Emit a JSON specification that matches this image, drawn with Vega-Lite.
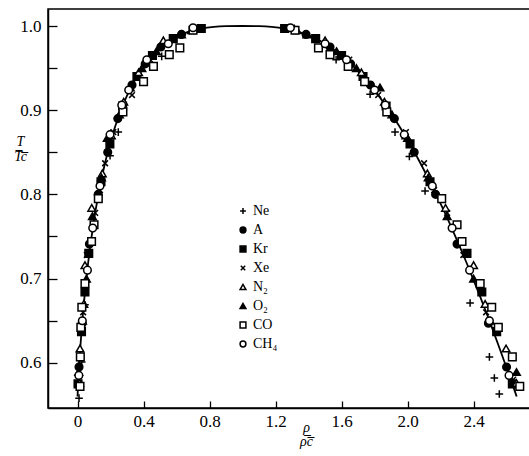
{
  "$schema": "https://vega.github.io/schema/vega-lite/v6.json",
  "autosize": "none",
  "width": 482,
  "height": 399,
  "padding": {"left": 48, "top": 9, "right": 0, "bottom": 48},
  "background": "white",
  "config": {
    "view": {"stroke": "black", "strokeWidth": 1.5},
    "axis": {
      "grid": false,
      "domainColor": "black",
      "domainWidth": 1.5,
      "tickColor": "black",
      "tickWidth": 1.3,
      "labelFont": "Liberation Serif",
      "labelFontSize": 17,
      "labelColor": "black",
      "titleFont": "Liberation Serif",
      "titleFontStyle": "italic",
      "titleFontWeight": "normal",
      "titleColor": "black",
      "titleFontSize": 14
    },
    "legend": {
      "orient": "none", "legendX": 188, "legendY": 195, "title": null,
      "labelFont": "Liberation Serif", "labelFontSize": 14, "labelColor": "black",
      "symbolSize": 34, "symbolStrokeWidth": 1.5,
      "rowPadding": 5, "labelOffset": 3
    }
  },
  "datasets": {
    "curve": [
      {"rho": 0.0, "T": 0.56}, {"rho": 0.0044, "T": 0.58}, {"rho": 0.0106, "T": 0.60}, {"rho": 0.0175, "T": 0.62},
      {"rho": 0.025, "T": 0.64}, {"rho": 0.0335, "T": 0.66}, {"rho": 0.043, "T": 0.68}, {"rho": 0.0535, "T": 0.70},
      {"rho": 0.065, "T": 0.72}, {"rho": 0.078, "T": 0.74}, {"rho": 0.0925, "T": 0.76}, {"rho": 0.1085, "T": 0.78},
      {"rho": 0.127, "T": 0.80}, {"rho": 0.147, "T": 0.82}, {"rho": 0.170, "T": 0.84}, {"rho": 0.196, "T": 0.86},
      {"rho": 0.227, "T": 0.88}, {"rho": 0.263, "T": 0.90}, {"rho": 0.306, "T": 0.92}, {"rho": 0.360, "T": 0.94},
      {"rho": 0.393, "T": 0.95}, {"rho": 0.4315, "T": 0.96}, {"rho": 0.479, "T": 0.97}, {"rho": 0.540, "T": 0.98},
      {"rho": 0.580, "T": 0.985}, {"rho": 0.630, "T": 0.99}, {"rho": 0.670, "T": 0.993}, {"rho": 0.704, "T": 0.995},
      {"rho": 0.750, "T": 0.997}, {"rho": 0.826, "T": 0.999}, {"rho": 0.90, "T": 0.9998}, {"rho": 1.0, "T": 1.0},
      {"rho": 1.10, "T": 0.9998}, {"rho": 1.176, "T": 0.999}, {"rho": 1.255, "T": 0.997}, {"rho": 1.303, "T": 0.995},
      {"rho": 1.340, "T": 0.993}, {"rho": 1.384, "T": 0.99}, {"rho": 1.443, "T": 0.985}, {"rho": 1.490, "T": 0.98},
      {"rho": 1.566, "T": 0.97}, {"rho": 1.629, "T": 0.96}, {"rho": 1.682, "T": 0.95}, {"rho": 1.730, "T": 0.94},
      {"rho": 1.814, "T": 0.92}, {"rho": 1.887, "T": 0.90}, {"rho": 1.953, "T": 0.88}, {"rho": 2.014, "T": 0.86},
      {"rho": 2.070, "T": 0.84}, {"rho": 2.123, "T": 0.82}, {"rho": 2.173, "T": 0.80}, {"rho": 2.2215, "T": 0.78},
      {"rho": 2.2675, "T": 0.76}, {"rho": 2.312, "T": 0.74}, {"rho": 2.355, "T": 0.72}, {"rho": 2.3965, "T": 0.70},
      {"rho": 2.437, "T": 0.68}, {"rho": 2.4765, "T": 0.66}, {"rho": 2.515, "T": 0.64}, {"rho": 2.5525, "T": 0.62},
      {"rho": 2.589, "T": 0.60}, {"rho": 2.626, "T": 0.58}, {"rho": 2.661, "T": 0.56}
    ],
    "pts": [
      {"s": "Ne", "rho": 0.009, "T": 0.558}, {"s": "Ne", "rho": 0.015, "T": 0.575}, {"s": "Ne", "rho": 0.025, "T": 0.601},
      {"s": "Ne", "rho": 0.045, "T": 0.669}, {"s": "Ne", "rho": 0.197, "T": 0.846}, {"s": "Ne", "rho": 0.247, "T": 0.874},
      {"s": "Ne", "rho": 0.51, "T": 0.964},
      {"s": "Ne", "rho": 2.556, "T": 0.563}, {"s": "Ne", "rho": 2.526, "T": 0.582}, {"s": "Ne", "rho": 2.496, "T": 0.607},
      {"s": "Ne", "rho": 2.379, "T": 0.671}, {"s": "Ne", "rho": 2.106, "T": 0.804}, {"s": "Ne", "rho": 2.011, "T": 0.845},
      {"s": "Ne", "rho": 1.924, "T": 0.874}, {"s": "Ne", "rho": 1.773, "T": 0.919}, {"s": "Ne", "rho": 1.567, "T": 0.96},

      {"s": "A", "rho": 0.009, "T": 0.595}, {"s": "A", "rho": 2.60, "T": 0.595},
      {"s": "A", "rho": 0.028, "T": 0.647}, {"s": "A", "rho": 2.49, "T": 0.647},
      {"s": "A", "rho": 0.072, "T": 0.741}, {"s": "A", "rho": 2.30, "T": 0.741},
      {"s": "A", "rho": 0.125, "T": 0.80}, {"s": "A", "rho": 2.17, "T": 0.80},
      {"s": "A", "rho": 0.183, "T": 0.85}, {"s": "A", "rho": 2.04, "T": 0.85},
      {"s": "A", "rho": 0.244, "T": 0.89}, {"s": "A", "rho": 1.92, "T": 0.89},
      {"s": "A", "rho": 0.33, "T": 0.93}, {"s": "A", "rho": 1.775, "T": 0.93},
      {"s": "A", "rho": 0.41, "T": 0.955}, {"s": "A", "rho": 1.655, "T": 0.955},
      {"s": "A", "rho": 0.505, "T": 0.975}, {"s": "A", "rho": 1.53, "T": 0.975},
      {"s": "A", "rho": 0.63, "T": 0.99}, {"s": "A", "rho": 1.385, "T": 0.99},

      {"s": "Kr", "rho": 0.003, "T": 0.575}, {"s": "Kr", "rho": 2.635, "T": 0.575},
      {"s": "Kr", "rho": 0.024, "T": 0.637}, {"s": "Kr", "rho": 2.54, "T": 0.637},
      {"s": "Kr", "rho": 0.045, "T": 0.684}, {"s": "Kr", "rho": 2.45, "T": 0.684},
      {"s": "Kr", "rho": 0.068, "T": 0.73}, {"s": "Kr", "rho": 2.36, "T": 0.73},
      {"s": "Kr", "rho": 0.142, "T": 0.815}, {"s": "Kr", "rho": 2.136, "T": 0.815},
      {"s": "Kr", "rho": 0.196, "T": 0.86}, {"s": "Kr", "rho": 2.015, "T": 0.86},
      {"s": "Kr", "rho": 0.273, "T": 0.905}, {"s": "Kr", "rho": 1.87, "T": 0.905},
      {"s": "Kr", "rho": 0.36, "T": 0.94}, {"s": "Kr", "rho": 1.73, "T": 0.94},
      {"s": "Kr", "rho": 0.454, "T": 0.965}, {"s": "Kr", "rho": 1.60, "T": 0.965},
      {"s": "Kr", "rho": 0.58, "T": 0.985}, {"s": "Kr", "rho": 1.443, "T": 0.985},
      {"s": "Kr", "rho": 0.75, "T": 0.997}, {"s": "Kr", "rho": 1.255, "T": 0.997},

      {"s": "Xe", "rho": 0.005, "T": 0.58}, {"s": "Xe", "rho": 2.64, "T": 0.58},
      {"s": "Xe", "rho": 0.034, "T": 0.66}, {"s": "Xe", "rho": 2.476, "T": 0.66},
      {"s": "Xe", "rho": 0.056, "T": 0.728}, {"s": "Xe", "rho": 2.338, "T": 0.728},
      {"s": "Xe", "rho": 0.107, "T": 0.778}, {"s": "Xe", "rho": 2.24, "T": 0.778},
      {"s": "Xe", "rho": 0.136, "T": 0.805}, {"s": "Xe", "rho": 2.161, "T": 0.805},
      {"s": "Xe", "rho": 0.167, "T": 0.837}, {"s": "Xe", "rho": 2.10, "T": 0.837},
      {"s": "Xe", "rho": 0.217, "T": 0.874}, {"s": "Xe", "rho": 1.99, "T": 0.874},
      {"s": "Xe", "rho": 0.33, "T": 0.918}, {"s": "Xe", "rho": 1.822, "T": 0.918},
      {"s": "Xe", "rho": 0.44, "T": 0.96}, {"s": "Xe", "rho": 1.647, "T": 0.96},
      {"s": "Xe", "rho": 0.58, "T": 0.985}, {"s": "Xe", "rho": 1.45, "T": 0.985},
      {"s": "Xe", "rho": 0.74, "T": 0.998}, {"s": "Xe", "rho": 1.30, "T": 0.998},

      {"s": "N₂", "rho": 0.012, "T": 0.576}, {"s": "N₂", "rho": 2.66, "T": 0.576},
      {"s": "N₂", "rho": 0.015, "T": 0.617}, {"s": "N₂", "rho": 2.597, "T": 0.617},
      {"s": "N₂", "rho": 0.038, "T": 0.67}, {"s": "N₂", "rho": 2.47, "T": 0.67},
      {"s": "N₂", "rho": 0.045, "T": 0.716}, {"s": "N₂", "rho": 2.40, "T": 0.716},
      {"s": "N₂", "rho": 0.086, "T": 0.784}, {"s": "N₂", "rho": 2.23, "T": 0.784},
      {"s": "N₂", "rho": 0.15, "T": 0.825}, {"s": "N₂", "rho": 2.12, "T": 0.825},
      {"s": "N₂", "rho": 0.205, "T": 0.87}, {"s": "N₂", "rho": 1.99, "T": 0.87},
      {"s": "N₂", "rho": 0.28, "T": 0.91}, {"s": "N₂", "rho": 1.86, "T": 0.91},
      {"s": "N₂", "rho": 0.37, "T": 0.945}, {"s": "N₂", "rho": 1.72, "T": 0.945},
      {"s": "N₂", "rho": 0.52, "T": 0.983}, {"s": "N₂", "rho": 1.50, "T": 0.983},
      {"s": "N₂", "rho": 0.69, "T": 0.995}, {"s": "N₂", "rho": 1.33, "T": 0.995},

      {"s": "O₂", "rho": 0.007, "T": 0.589}, {"s": "O₂", "rho": 2.66, "T": 0.589},
      {"s": "O₂", "rho": 0.03, "T": 0.65}, {"s": "O₂", "rho": 2.50, "T": 0.65},
      {"s": "O₂", "rho": 0.054, "T": 0.70}, {"s": "O₂", "rho": 2.40, "T": 0.70},
      {"s": "O₂", "rho": 0.09, "T": 0.774}, {"s": "O₂", "rho": 2.24, "T": 0.774},
      {"s": "O₂", "rho": 0.145, "T": 0.82}, {"s": "O₂", "rho": 2.125, "T": 0.82},
      {"s": "O₂", "rho": 0.18, "T": 0.867}, {"s": "O₂", "rho": 2.00, "T": 0.867},
      {"s": "O₂", "rho": 0.254, "T": 0.895}, {"s": "O₂", "rho": 1.905, "T": 0.895},
      {"s": "O₂", "rho": 0.32, "T": 0.927}, {"s": "O₂", "rho": 1.833, "T": 0.927},
      {"s": "O₂", "rho": 0.39, "T": 0.95}, {"s": "O₂", "rho": 1.69, "T": 0.95},
      {"s": "O₂", "rho": 0.478, "T": 0.97}, {"s": "O₂", "rho": 1.57, "T": 0.97},
      {"s": "O₂", "rho": 0.63, "T": 0.99}, {"s": "O₂", "rho": 1.39, "T": 0.99},

      {"s": "CO", "rho": 0.015, "T": 0.572}, {"s": "CO", "rho": 2.68, "T": 0.572},
      {"s": "CO", "rho": 0.017, "T": 0.607}, {"s": "CO", "rho": 2.635, "T": 0.607},
      {"s": "CO", "rho": 0.02, "T": 0.642}, {"s": "CO", "rho": 2.55, "T": 0.642},
      {"s": "CO", "rho": 0.026, "T": 0.666}, {"s": "CO", "rho": 2.51, "T": 0.666},
      {"s": "CO", "rho": 0.045, "T": 0.694}, {"s": "CO", "rho": 2.44, "T": 0.694},
      {"s": "CO", "rho": 0.085, "T": 0.744}, {"s": "CO", "rho": 2.33, "T": 0.744},
      {"s": "CO", "rho": 0.10, "T": 0.764}, {"s": "CO", "rho": 2.30, "T": 0.764},
      {"s": "CO", "rho": 0.126, "T": 0.795}, {"s": "CO", "rho": 2.207, "T": 0.795},
      {"s": "CO", "rho": 0.275, "T": 0.898}, {"s": "CO", "rho": 1.874, "T": 0.898},
      {"s": "CO", "rho": 0.40, "T": 0.934}, {"s": "CO", "rho": 1.74, "T": 0.934},
      {"s": "CO", "rho": 0.46, "T": 0.952}, {"s": "CO", "rho": 1.64, "T": 0.952},
      {"s": "CO", "rho": 0.556, "T": 0.966}, {"s": "CO", "rho": 1.53, "T": 0.966},
      {"s": "CO", "rho": 0.62, "T": 0.974}, {"s": "CO", "rho": 1.46, "T": 0.974},
      {"s": "CO", "rho": 0.70, "T": 0.995}, {"s": "CO", "rho": 1.318, "T": 0.995},

      {"s": "CH₄", "rho": 0.008, "T": 0.585}, {"s": "CH₄", "rho": 2.615, "T": 0.585},
      {"s": "CH₄", "rho": 0.029, "T": 0.65}, {"s": "CH₄", "rho": 2.496, "T": 0.65},
      {"s": "CH₄", "rho": 0.06, "T": 0.71}, {"s": "CH₄", "rho": 2.376, "T": 0.71},
      {"s": "CH₄", "rho": 0.092, "T": 0.76}, {"s": "CH₄", "rho": 2.27, "T": 0.76},
      {"s": "CH₄", "rho": 0.136, "T": 0.81}, {"s": "CH₄", "rho": 2.15, "T": 0.81},
      {"s": "CH₄", "rho": 0.197, "T": 0.871}, {"s": "CH₄", "rho": 1.98, "T": 0.871},
      {"s": "CH₄", "rho": 0.268, "T": 0.906}, {"s": "CH₄", "rho": 1.865, "T": 0.906},
      {"s": "CH₄", "rho": 0.31, "T": 0.924}, {"s": "CH₄", "rho": 1.80, "T": 0.924},
      {"s": "CH₄", "rho": 0.42, "T": 0.96}, {"s": "CH₄", "rho": 1.63, "T": 0.96},
      {"s": "CH₄", "rho": 0.55, "T": 0.979}, {"s": "CH₄", "rho": 1.50, "T": 0.979},
      {"s": "CH₄", "rho": 0.70, "T": 0.998}, {"s": "CH₄", "rho": 1.29, "T": 0.998}
    ]
  },
  "layer": [
    {
      "data": {"name": "curve"},
      "mark": {"type": "line", "color": "black", "strokeWidth": 1.8, "interpolate": "monotone", "clip": true},
      "encoding": {
        "x": {
          "field": "rho", "type": "quantitative",
          "scale": {"domain": [-0.179, 2.742], "nice": false, "zero": false},
          "axis": {
            "values": [0, 0.2, 0.4, 0.6, 0.8, 1.0, 1.2, 1.4, 1.6, 1.8, 2.0, 2.2, 2.4, 2.6],
            "labelExpr": "round(datum.value*10) % 4 == 0 ? (datum.value == 0 ? '0' : format(datum.value, '.1f')) : ''",
            "tickSize": -7,
            "labelPadding": 12,
            "title": ["ρ", "ρ̅c̅"],
            "titleLineHeight": 14,
            "titleX": 258,
            "titleY": 12,
            "titleBaseline": "top",
            "titleAlign": "center"
          }
        },
        "y": {
          "field": "T", "type": "quantitative",
          "scale": {"domain": [0.5463, 1.0202], "nice": false, "zero": false},
          "axis": {
            "values": [0.6, 0.65, 0.7, 0.75, 0.8, 0.85, 0.9, 0.95, 1.0],
            "labelExpr": "round(datum.value*100) % 10 == 0 ? format(datum.value, '.1f') : ''",
            "tickSize": -9,
            "labelPadding": 16,
            "title": ["T", "T̅c̅"],
            "titleAngle": 0,
            "titleLineHeight": 15,
            "titleX": -28,
            "titleY": 125,
            "titleBaseline": "top",
            "titleAlign": "center"
          }
        }
      }
    },
    {
      "data": {"name": "pts"},
      "mark": {"type": "point", "filled": false, "strokeWidth": 1.5, "size": 58, "opacity": 1, "clip": true},
      "encoding": {
        "x": {"field": "rho", "type": "quantitative"},
        "y": {"field": "T", "type": "quantitative"},
        "shape": {
          "field": "s", "type": "nominal",
          "scale": {
            "domain": ["Ne", "A", "Kr", "Xe", "N₂", "O₂", "CO", "CH₄"],
            "range": ["M-1,0L1,0M0,-1L0,1", "circle", "square", "M-0.75,-0.75L0.75,0.75M-0.75,0.75L0.75,-0.75", "triangle-up", "triangle-up", "square", "circle"]
          }
        },
        "fill": {
          "field": "s", "type": "nominal",
          "scale": {
            "domain": ["Ne", "A", "Kr", "Xe", "N₂", "O₂", "CO", "CH₄"],
            "range": ["transparent", "black", "black", "transparent", "white", "black", "white", "white"]
          }
        },
        "stroke": {
          "field": "s", "type": "nominal",
          "scale": {
            "domain": ["Ne", "A", "Kr", "Xe", "N₂", "O₂", "CO", "CH₄"],
            "range": ["black", "black", "black", "black", "black", "black", "black", "black"]
          }
        }
      }
    }
  ]
}
